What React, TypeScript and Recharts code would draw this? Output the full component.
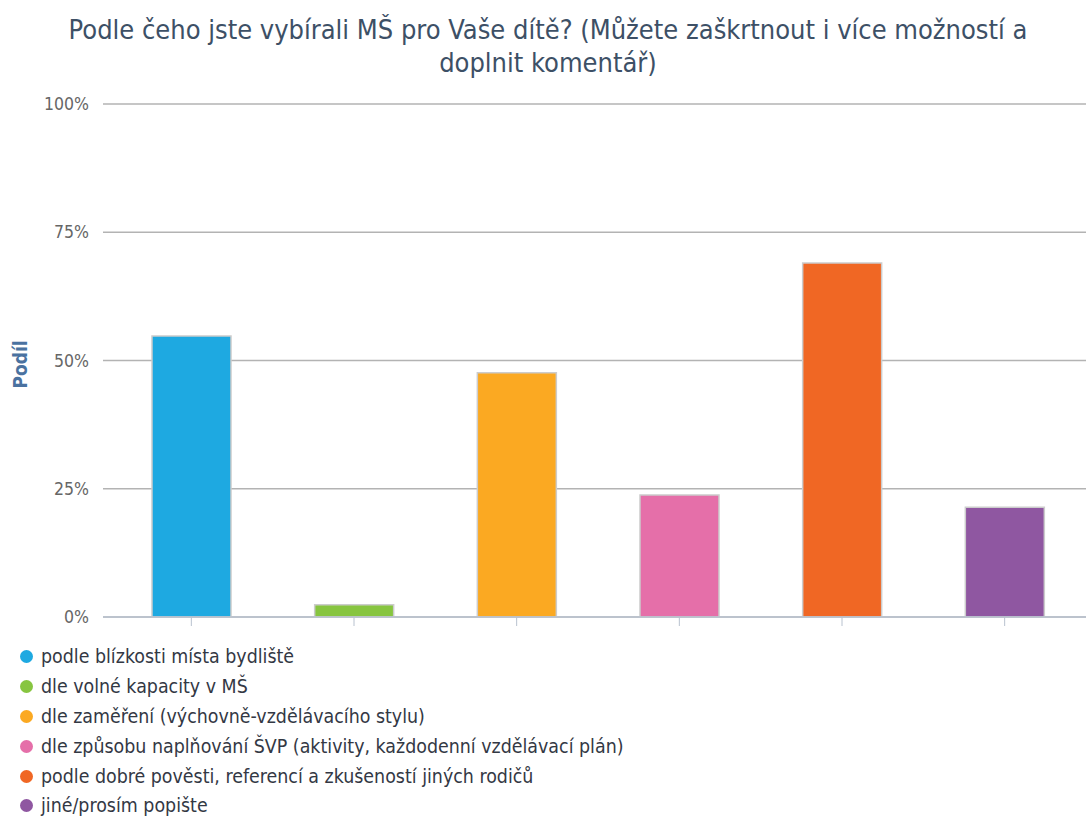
import { Bar, BarChart, CartesianGrid, Cell, Legend, XAxis, YAxis } from "recharts";

const categories = [
  "podle blízkosti místa bydliště",
  "dle volné kapacity v MŠ",
  "dle zaměření (výchovně-vzdělávacího stylu)",
  "dle způsobu naplňování ŠVP (aktivity, každodenní vzdělávací plán)",
  "podle dobré pověsti, referencí a zkušeností jiných rodičů",
  "jiné/prosím popište",
];

// share of respondents, %
const shares = [54.8, 2.4, 47.6, 23.8, 69.0, 21.4];

const colors = ["#1ea9e1", "#87c540", "#fba922", "#e56fa9", "#f06724", "#8f57a1"];

const yTicks = [0, 25, 50, 75, 100];

const title = "Podle čeho jste vybírali MŠ pro Vaše dítě? (Můžete zaškrtnout i více možností a doplnit komentář)";

const data = categories.map((name, i) => ({ name, share: shares[i] }));

const FONT = "'DejaVu Sans Condensed', 'DejaVu Sans', sans-serif";

function YLabel({ viewBox }: any) {
  const cy = viewBox.y + viewBox.height / 2 + 4;
  return (
    <text
      x={20}
      y={cy}
      transform={`rotate(-90 20 ${cy})`}
      textAnchor="middle"
      dominantBaseline="central"
      fill="#4a72a0"
      fontSize={19}
      fontWeight="bold"
      fontFamily={FONT}
      style={{ fontStretch: "condensed" }}
    >
      Podíl
    </text>
  );
}

function LegendList() {
  return (
    <ul style={{ listStyle: "none", margin: 0, padding: 0, fontFamily: FONT, fontStretch: "condensed" }}>
      {categories.map((c, i) => (
        <li key={c} style={{ display: "flex", alignItems: "center", height: 29.8, fontSize: 19.4, color: "#333844" }}>
          <span
            style={{
              display: "inline-block",
              width: 13,
              height: 13,
              borderRadius: 7,
              background: colors[i],
              marginLeft: 20,
              marginRight: 8,
            }}
          />
          {c}
        </li>
      ))}
    </ul>
  );
}

export default function App() {
  return (
    <div style={{ position: "relative", width: 1086, height: 816, background: "#fff" }}>
      <style>{"body{margin:0}"}</style>
      <div
        style={{
          position: "absolute",
          top: 13,
          left: 55,
          width: 986,
          textAlign: "center",
          fontFamily: FONT,
          fontStretch: "condensed",
          fontSize: 27,
          lineHeight: "33px",
          color: "#3d5066",
          zIndex: 1,
        }}
      >
        {title}
      </div>
      <BarChart
        width={1086}
        height={816}
        data={data}
        margin={{ top: 104, right: 0, left: 0, bottom: 189 }}
        barSize={79}
      >
        <CartesianGrid vertical={false} stroke="#b3b3b3" strokeWidth={1.5} />
        <XAxis
          dataKey="name"
          height={10}
          padding={{ left: 7, right: 0 }}
          tickFormatter={() => ""}
          tickSize={9}
          tickLine={{ stroke: "#b8c2cf" }}
          axisLine={{ stroke: "#b8c2cf", strokeWidth: 1.5 }}
        />
        <YAxis
          width={103}
          domain={[0, 100]}
          ticks={yTicks}
          tickFormatter={(v: number) => `${v}%`}
          axisLine={false}
          tickLine={false}
          tickSize={0}
          tickMargin={14}
          tick={{ fontSize: 17.5, fill: "#666", fontFamily: FONT, style: { fontStretch: "condensed" } }}
          label={<YLabel />}
        />
        <Bar dataKey="share" stroke="#cccccc" strokeWidth={1.5} isAnimationActive={false}>
          {data.map((d, i) => (
            <Cell key={d.name} fill={colors[i]} />
          ))}
        </Bar>
        <Legend
          layout="vertical"
          align="center"
          verticalAlign="middle"
          wrapperStyle={{ top: 642, left: 0, width: 800 }}
          content={() => <LegendList />}
        />
      </BarChart>
    </div>
  );
}
